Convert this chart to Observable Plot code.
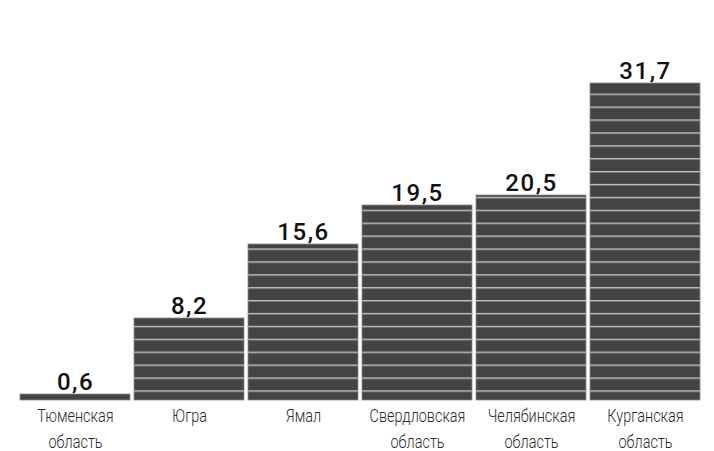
<!DOCTYPE html>
<html>
<head>
<meta charset="utf-8">
<script src="https://cdn.jsdelivr.net/npm/d3@7"></script>
<script src="https://cdn.jsdelivr.net/npm/@observablehq/plot@0.6"></script>
<style>
  html, body { margin: 0; padding: 0; background: #fff; }
  #chart svg { display: block; }
</style>
</head>
<body>
<svg width="0" height="0" style="position:absolute">
  <defs>
    <pattern id="stripes" patternUnits="userSpaceOnUse" x="0" y="390.3" width="714" height="12.9">
      <rect x="0" y="0" width="714" height="12.9" fill="#444444"></rect>
      <rect x="0" y="0" width="714" height="1.4" fill="#c4c4c4"></rect>
    </pattern>
  </defs>
</svg>
<div id="chart"></div>
<script>
const regions = ["Тюменская\nобласть", "Югра", "Ямал", "Свердловская\nобласть", "Челябинская\nобласть", "Курганская\nобласть"];
const values = [0.6, 8.2, 15.6, 19.5, 20.5, 31.7];

const data = regions.map((r, i) => ({region: r, value: values[i]}));
const fmt = v => d3.format(".1f")(v).replace(".", ",");

const chart = Plot.plot({
  width: 714,
  height: 451,
  marginTop: 50,
  marginBottom: 51,
  marginLeft: 17,
  marginRight: 10,
  style: {fontFamily: "Roboto, sans-serif"},
  x: {domain: regions, paddingInner: 0.035, paddingOuter: 0.0175, axis: null},
  y: {domain: [0, 35], axis: null},
  marks: [
    Plot.barY(data, {x: "region", y: "value", fill: "url(#stripes)", stroke: "#8c8c8c", strokeWidth: 0.8}),
    Plot.text(data, {
      x: "region", y: "value", text: d => fmt(d.value),
      dy: -5, lineAnchor: "bottom", textAnchor: "middle",
      fontSize: 24, fontWeight: 500, fontFamily: "Roboto, 'DejaVu Sans', sans-serif",
      fill: "#111"
    }),
    Plot.text(data, {
      x: "region", frameAnchor: "bottom", text: "region",
      lineAnchor: "top", dy: 4, textAnchor: "middle",
      fontSize: 19, lineHeight: 1.33, fontWeight: 300,
      fontFamily: "Roboto, sans-serif", fill: "#2a2a2a"
    })
  ]
});
document.getElementById("chart").appendChild(chart);

chart.querySelectorAll("text").forEach(t => {
  const fsEl = t.closest("[font-size]");
  const fs = fsEl ? fsEl.getAttribute("font-size") : null;
  if (fs === "24") {
    t.style.letterSpacing = "1.5px";
  } else if (fs === "19") {
    const parts = t.querySelectorAll("tspan");
    const items = parts.length ? Array.from(parts) : [t];
    items.forEach(el => {
      const len = el.getComputedTextLength();
      el.setAttribute("textLength", (len * 0.76).toFixed(1));
      el.setAttribute("lengthAdjust", "spacingAndGlyphs");
    });
  }
});
</script>
</body>
</html>
